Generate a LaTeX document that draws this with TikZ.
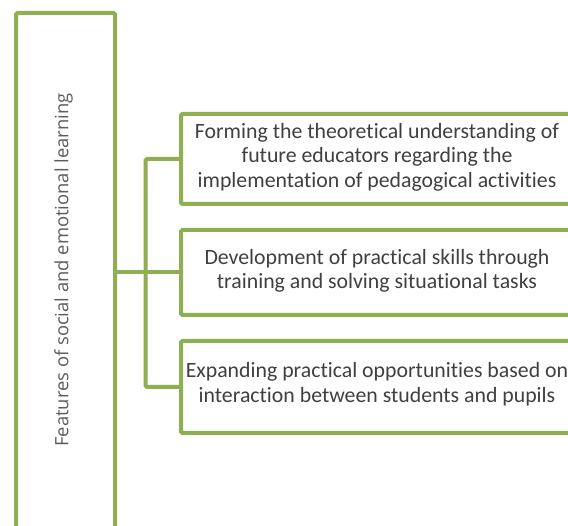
\documentclass[tikz,border=0pt]{standalone}
\usepackage{fontspec}
\setmainfont{Carlito}[Ligatures={NoCommon,NoRequired,NoContextual}]
\newfontfamily\leftfont{Open Sans}
\definecolor{olive}{RGB}{142,176,82}
\definecolor{txt}{RGB}{64,64,64}
\begin{document}
\begin{tikzpicture}[x=1pt,y=-1pt,
  frame/.style={draw=olive,line width=4pt,rounded corners=1.5pt,fill=white},
  itembox/.style={frame,minimum width=400pt,anchor=north west,text=txt,inner sep=0pt},
  itemtext/.style={align=center,text=txt,font=\fontsize{21.8}{24.5}\selectfont},
  link/.style={draw=olive,line width=4pt,rounded corners=1.5pt}]
\useasboundingbox (0,0) rectangle (568,526);
\clip (0,0) rectangle (568,526);
\node[frame,anchor=north west,minimum width=99pt,minimum height=540pt,inner sep=0pt] (L) at (14,11) {};
\node[rotate=90,text=txt!85,font=\leftfont\fontsize{18.4}{22}\selectfont] (LT) at (63.5,270) {Features of social and emotional learning};
\node[itembox,minimum height=90pt] (B1) at (179,112) {};
\node[itembox,minimum height=85pt] (B2) at (179,228) {};
\node[itembox,minimum height=92pt] (B3) at (179,339) {};
\node[itemtext] (T1) at (377,157) {Forming the theoretical understanding of\\future educators regarding the\\implementation of pedagogical activities};
\node[itemtext] (T2) at (377,271) {Development of practical skills through\\training and solving situational tasks};
\node[itemtext] (T3) at (377,384) {Expanding practical opportunities based on\\interaction between students and pupils};
\coordinate (bus) at (145.5,0);
\draw[link] (L.east |- B2.west) -- (B2.west);
\draw[link] (B1.west) -- (bus |- B1.west) -- (bus |- B3.west) -- (B3.west);
\end{tikzpicture}
\end{document}
